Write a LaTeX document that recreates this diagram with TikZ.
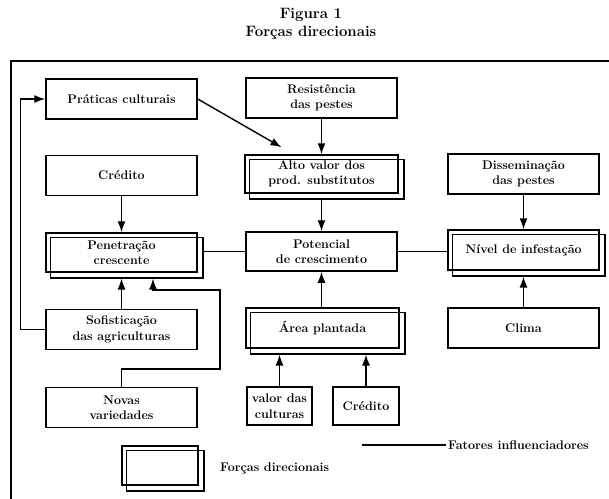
\documentclass[tikz,border=0pt]{standalone}
\usetikzlibrary{arrows.meta,fit}

\begin{document}
\begin{tikzpicture}[
    x=1pt,y=-1pt,
    >={Latex[length=11pt,width=8pt]},
    box/.style={draw,line width=1.5pt,minimum width=151pt,minimum height=40pt,
      inner sep=2pt,align=center,font=\fontsize{12.5}{15.5}\selectfont\bfseries},
    copia/.style={draw,line width=1.5pt,inner sep=0pt,
      fit={([shift={(5,5)}]#1.south west) ([shift={(5,5)}]#1.north east)}},
    seta/.style={->,line width=1.4pt},
    liga/.style={line width=1.4pt},
    legenda/.style={anchor=west,inner sep=2pt,font=\fontsize{12.5}{15.5}\selectfont\bfseries}
    ]
\useasboundingbox (0,0) rectangle (609,498);

% TITLE AND FRAME
\node[align=center,font=\fontsize{15}{18}\selectfont\bfseries] (titulo) at (311,24)
  {Figura 1\\Forças direcionais};
\draw[line width=1.5pt] (11,505) -- (11,61) -- (620,61);

% BOXES
\node[box] (prat) at (121.5,99) {Práticas culturais};
\node[box] (resist) at (321.5,98) {Resistência\\das pestes};
\node[box] (cred) at (121.5,175.5) {Crédito};
\node[box,minimum width=153pt,minimum height=38pt] (alto) at (321.5,174)
  {Alto valor dos\\prod. substitutos};
\node[box] (diss) at (523.5,174) {Disseminação\\das pestes};
\node[box,minimum height=39pt] (pene) at (121.5,252.5) {Penetração\\crescente};
\node[box,minimum height=39pt] (pot) at (321.5,251.5) {Potencial\\de crescimento};
\node[box] (nivel) at (523.5,250) {Nível de infestação};
\node[box] (sofi) at (121.5,329.5) {Sofisticação\\das agriculturas};
\node[box,minimum width=153pt] (area) at (322.5,328) {Área plantada};
\node[box] (clima) at (523.5,328) {Clima};
\node[box] (novas) at (121.5,407.5) {Novas\\variedades};
\node[box,minimum width=65pt,minimum height=38pt] (valor) at (279.5,406) {valor das\\culturas};
\node[box,minimum width=66pt,minimum height=38pt] (cred2) at (366,406) {Crédito};

% LEGEND
\node[box,minimum width=76pt,minimum height=39pt] (leg) at (160,465.5) {};
\node[legenda] (legtxt) at (218,468) {Forças direcionais};
\node[legenda] (fatores) at (446,445) {Fatores influenciadores};
\coordinate (fio) at (362,445);
\draw[line width=1.5pt] (fio) -- (fatores.west);

% DRIVING FORCES: second frame
\foreach \n in {alto,pene,nivel,area,leg}
  \node[copia=\n] (\n2) {};

% CONNECTORS
\draw[seta] (sofi.west) -- ++(-25,0) |- (prat.west); % feedback
\coordinate (alvo) at ([shift={(-40,-7)}]alto.north);
\draw[seta] (prat.east) -- (alvo);
\draw[seta] (resist.south) -- (alto.north);
\draw[seta] (cred.south) -- (pene.north);
\draw[seta] (alto2.south -| pot.north) -- (pot.north);
\draw[seta] (diss.south) -- (nivel.north);
\draw[liga] (pene2.east |- pot.west) -- (pot.west);
\draw[liga] (pot.east) -- (nivel.west |- pot.east);
\draw[seta] (sofi.north) -- (sofi.north |- pene2.south);
\coordinate (nv1) at (220,369);
\coordinate (nv2) at (153,290);
\draw[seta] (novas.north) |- (nv1) |- (nv2) -- (nv2 |- pene2.south);
\draw[seta] (clima.north) -- (clima.north |- nivel2.south);
\draw[seta] (pot.south |- area.north) -- (pot.south);
\draw[seta] (valor.north) -- (valor.north |- area2.south);
\draw[seta] (cred2.north) -- (cred2.north |- area2.south);
\end{tikzpicture}
\end{document}
